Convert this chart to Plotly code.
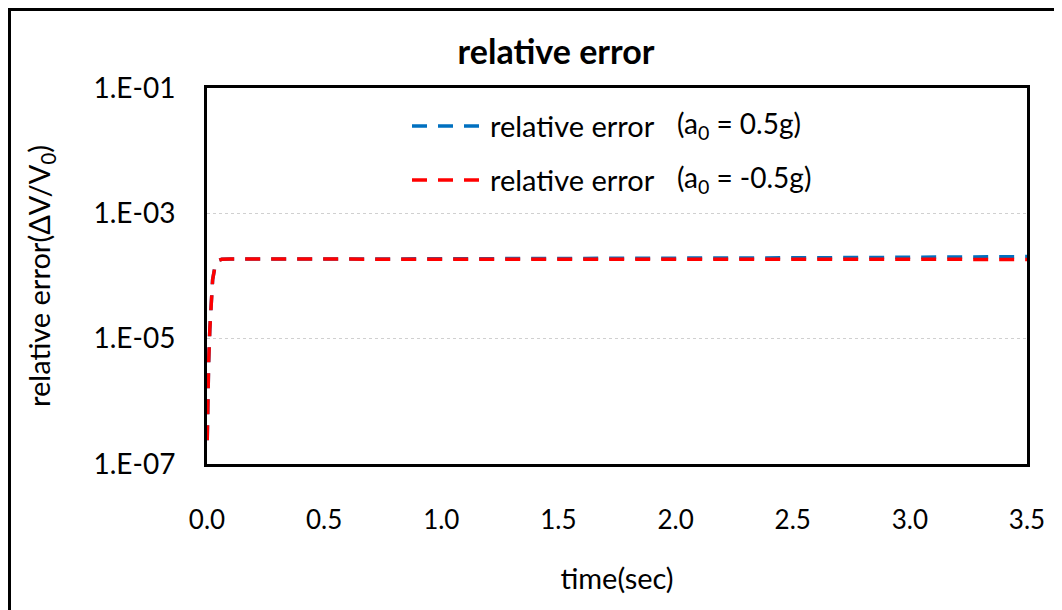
import plotly.graph_objects as go

# ---- data ----
time_sec = [0.001, 0.003, 0.007, 0.012, 0.020, 0.024, 0.033, 0.046, 0.063, 0.1,
            0.5, 1.0, 1.5, 2.0, 2.5, 3.0, 3.5]
err_pos = [2.4e-7, 1.05e-6, 4.1e-6, 1.4e-5, 4.7e-5, 8.7e-5, 1.35e-4, 1.75e-4, 1.85e-4, 1.86e-4,
           1.86e-4, 1.87e-4, 1.88e-4, 1.91e-4, 1.95e-4, 1.99e-4, 2.04e-4]
err_neg = [2.4e-7, 1.05e-6, 4.1e-6, 1.4e-5, 4.7e-5, 8.7e-5, 1.35e-4, 1.75e-4, 1.85e-4, 1.86e-4,
           1.86e-4, 1.86e-4, 1.86e-4, 1.85e-4, 1.85e-4, 1.85e-4, 1.84e-4]
series_names = ["relative error", "relative error"]
series_notes = ["(a<sub>0</sub> = 0.5g)", "(a<sub>0</sub> = -0.5g)"]
y_tickvals = [1e-7, 1e-5, 1e-3, 1e-1]
y_ticktext = ["1.E-07", "1.E-05", "1.E-03", "1.E-01"]
x_tickvals = [0.0, 0.5, 1.0, 1.5, 2.0, 2.5, 3.0, 3.5]

BLUE = "#0070C0"
RED = "#FF0000"
FONT = "Lato"
DASH = "15px,11px"

# the page body has an 8px margin; work in page pixels and convert
OFF = 8
FIG_W, FIG_H = 1062 - OFF, 610 - OFF
# plot area in page pixels
L, R, T, B = 207, 1027, 88, 464
W, H = R - L, B - T


def px(x):
    return (x - L) / W


def py(y):
    return (B - y) / H


fig = go.Figure()
fig.add_trace(go.Scatter(x=time_sec, y=err_pos, mode="lines", name=series_names[0],
                         line=dict(color=BLUE, width=3.5, dash=DASH), showlegend=False))
fig.add_trace(go.Scatter(x=time_sec, y=err_neg, mode="lines", name=series_names[1],
                         line=dict(color=RED, width=3.5, dash=DASH), showlegend=False))

shapes = []
annotations = []
# legend (manual, to match the long dashed samples)
for i, (yy, col) in enumerate([(125, BLUE), (179, RED)]):
    shapes.append(dict(type="line", xref="paper", yref="paper",
                       x0=px(412), x1=px(482), y0=py(yy + 1), y1=py(yy + 1),
                       line=dict(color=col, width=3.5, dash=DASH)))
    annotations.append(dict(xref="paper", yref="paper", x=px(488), y=py(yy),
                            xanchor="left", yanchor="middle", showarrow=False,
                            text=series_names[i], font=dict(family=FONT, size=29, color="black")))
    annotations.append(dict(xref="paper", yref="paper", x=px(675), y=py(yy),
                            xanchor="left", yanchor="middle", showarrow=False,
                            text=series_notes[i], font=dict(family=FONT, size=28, color="black")))

# outer chart frame
shapes.append(dict(type="rect", xref="paper", yref="paper",
                   x0=px(9.5), x1=px(1080), y0=py(640), y1=py(9.5),
                   line=dict(color="black", width=3), layer="below"))

fig.update_layout(
    width=FIG_W, height=FIG_H,
    margin=dict(l=L - OFF, r=FIG_W - (R - OFF), t=T - OFF, b=FIG_H - (B - OFF)),
    paper_bgcolor="white", plot_bgcolor="white",
    title=dict(text="<b>relative error</b>", x=(556 - OFF) / FIG_W, xanchor="center",
               y=1 - (52 - OFF) / FIG_H, yanchor="middle",
               font=dict(family=FONT, size=34, color="black")),
    font=dict(family=FONT, color="black"),
    shapes=shapes, annotations=annotations,
)
fig.update_xaxes(range=[0, 3.5], tickvals=x_tickvals, tickformat=".1f",
                 showline=True, mirror=True, linecolor="black", linewidth=3,
                 showgrid=False, zeroline=False, ticks="",
                 ticklabelstandoff=31,
                 tickfont=dict(family=FONT, size=26, color="black"),
                 title=dict(text="time(sec)", standoff=35,
                            font=dict(family=FONT, size=29, color="black")))
fig.update_yaxes(type="log", range=[-7, -1], tickvals=y_tickvals, ticktext=y_ticktext,
                 showline=True, mirror=True, linecolor="black", linewidth=3,
                 showgrid=True, gridcolor="#D0D0D0", gridwidth=1, griddash="dot",
                 zeroline=False, ticks="",
                 ticklabelstandoff=23,
                 tickfont=dict(family=FONT, size=28, color="black"),
                 title=dict(text="relative error(ΔV/V<sub>0</sub>)", standoff=35,
                            font=dict(family=FONT, size=29, color="black")))

fig.write_html("out.html")
